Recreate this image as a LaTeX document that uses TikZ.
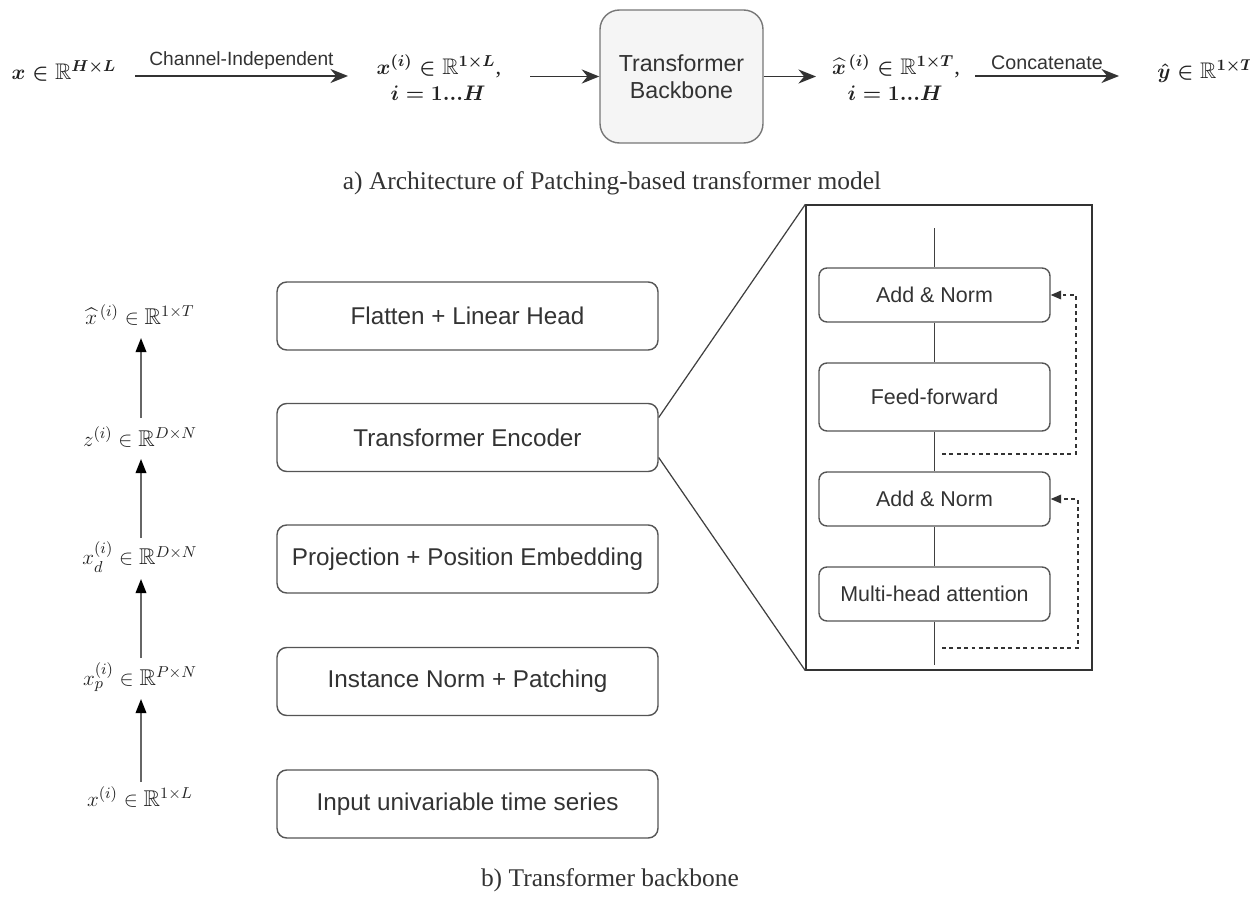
\documentclass[tikz,border=0pt]{standalone}
\usepackage{amssymb}
\usepackage{fontspec}
\setsansfont{Liberation Sans}
\setmainfont{Liberation Serif}
\usetikzlibrary{arrows.meta,calc}
\definecolor{txt}{HTML}{333333}
\definecolor{mtxt}{HTML}{222222}
\definecolor{edge}{HTML}{555555}
\definecolor{bbfill}{HTML}{F5F5F5}
\definecolor{bbedge}{HTML}{777777}
\begin{document}
\begin{tikzpicture}[x=0.02cm,y=-0.02cm,
  mtop/.style={inner sep=0pt,text=mtxt,font=\fontsize{12.85}{14}\selectfont\boldmath},
  mleft/.style={inner sep=0pt,text=mtxt,font=\fontsize{13}{14}\selectfont},
  lbl/.style={text=txt,font=\sffamily\fontsize{10.9}{12}\selectfont,inner sep=3pt},
  toparr/.style={draw=txt,line width=1.1pt,-{Stealth[length=10pt,width=8pt]}},
  larr/.style={draw=black!60,line width=1pt,-{Stealth[length=8pt,width=6pt,inset=0pt,color=black]}},
  outerbox/.style={draw=edge,line width=0.8pt,rounded corners=5.5pt,fill=white,
    minimum width=7.62cm,minimum height=1.36cm,text=txt,
    font=\sffamily\fontsize{13.8}{16}\selectfont},
  innerbox/.style={draw=edge,line width=0.8pt,rounded corners=4.5pt,fill=white,
    minimum width=4.62cm,text=txt,font=\sffamily\fontsize{12.2}{14}\selectfont},
  thinline/.style={draw=black!75,line width=0.7pt},
  dsh/.style={draw=black!80,line width=0.7pt,dash pattern=on 2.2pt off 2pt,
    -{Stealth[length=6pt,width=5pt,inset=0pt]}},
  captext/.style={text=txt,font=\rmfamily\fontsize{14.5}{16}\selectfont}
]
\useasboundingbox (0,0) rectangle (1250,902);
\begin{scope}
\clip (0,0) rectangle (1250,902);

% ---------- a) top row ----------
\node[mtop] (xin) at (64,71) {$x\in\mathbb{R}^{H\times L}$};
\coordinate (a1s) at (135,76);
\coordinate (a1e) at (348,76);
\draw[toparr] (a1s) -- node[lbl,above] {Channel-Independent} (a1e);

\node[mtop] (xi1) at (439,66) {$x^{(i)}\in\mathbb{R}^{1\times L}$,};
\node[mtop] (xi2) at (438,93) {$i=1...H$};

\node[draw=bbedge,fill=bbfill,line width=0.8pt,rounded corners=11pt,
  minimum width=3.26cm,minimum height=2.66cm,align=center,text=txt,
  font=\sffamily\fontsize{13.2}{15.5}\selectfont] (tb) at (681.5,76.5)
  {Transformer\\Backbone};

\coordinate (a2s) at (530,76.5);
\draw[toparr] (a2s) -- (tb.west);
\coordinate (a3e) at (816,76.5);
\draw[toparr] (tb.east) -- (a3e);

\node[mtop] (xo1) at (896,66) {${\widehat{x}}^{\kern1.5pt(i)}\in\mathbb{R}^{1\times T}$,};
\node[mtop] (xo2) at (895,93) {$i=1...H$};

\coordinate (a4s) at (975,76);
\coordinate (a4e) at (1119,76);
\draw[toparr] (a4s) -- node[lbl,above,font=\sffamily\fontsize{11.2}{12}\selectfont] {Concatenate} (a4e);

\node[mtop,anchor=west] (yo) at (1157,71) {$\hat{y}\in\mathbb{R}^{1\times T}$};

\node[captext] (capa) at (612,183) {a) Architecture of Patching-based transformer model};

% ---------- b) backbone ----------
\node[outerbox] (B5) at (467.5,316) {Flatten + Linear Head};
\node[outerbox] (B4) at (467.5,437.5) {Transformer Encoder};
\node[outerbox] (B3) at (467.5,559) {Projection + Position Embedding};
\node[outerbox] (B2) at (467.5,681.5) {Instance Norm + Patching};
\node[outerbox] (B1) at (467.5,804) {Input univariable time series};

\node[mleft] (L5) at (140,315) {${\widehat{x}}^{\kern1.5pt(i)}\in\mathbb{R}^{1\times T}$};
\node[mleft] (L4) at (140,437) {$z^{(i)}\in\mathbb{R}^{D\times N}$};
\node[mleft] (L3) at (140,557) {$x_d^{(i)}\in\mathbb{R}^{D\times N}$};
\node[mleft] (L2) at (140,677) {$x_p^{(i)}\in\mathbb{R}^{P\times N}$};
\node[mleft] (L1) at (140,797) {$x^{(i)}\in\mathbb{R}^{1\times L}$};

\draw[larr] ($(L1)+(1,-15)$) -- ($(L2)+(1,22)$);
\draw[larr] ($(L2)+(1,-19)$) -- ($(L3)+(1,22)$);
\draw[larr] ($(L3)+(1,-19)$) -- ($(L4)+(1,22)$);
\draw[larr] ($(L4)+(1,-19)$) -- ($(L5)+(1,23)$);

% zoomed encoder panel
\node[draw=black!80,line width=0.8pt,minimum width=5.72cm,minimum height=9.3cm,
  inner sep=0pt] (panel) at (949,437.5) {};
\draw[thinline] ($(B4.east)+(0,-20)$) -- (panel.north west);
\draw[thinline] ($(B4.east)+(0,20)$) -- (panel.south west);

\node[innerbox,minimum height=1.08cm] (AN1) at (934.5,295) {Add \& Norm};
\node[innerbox,minimum height=1.36cm] (FF) at (934.5,397) {Feed-forward};
\node[innerbox,minimum height=1.08cm] (AN2) at (934.5,499) {Add \& Norm};
\node[innerbox,minimum height=1.08cm] (MHA) at (934.5,594) {Multi-head attention};

\coordinate (vtop) at (934.5,228);
\coordinate (vbot) at (934.5,665);
\draw[thinline] (vtop) -- (AN1.north);
\draw[thinline] (AN1.south) -- (FF.north);
\draw[thinline] (FF.south) -- (AN2.north);
\draw[thinline] (AN2.south) -- (MHA.north);
\draw[thinline] (MHA.south) -- (vbot);

\coordinate (d1) at (942,454);
\coordinate (d2) at (942,648);
\draw[dsh] (d1) -- (1076,454) |- (AN1.east);
\draw[dsh] (d2) -- (1078,648) |- (AN2.east);

\node[captext] (capb) at (610,880) {b) Transformer backbone};
\end{scope}
\end{tikzpicture}
\end{document}
